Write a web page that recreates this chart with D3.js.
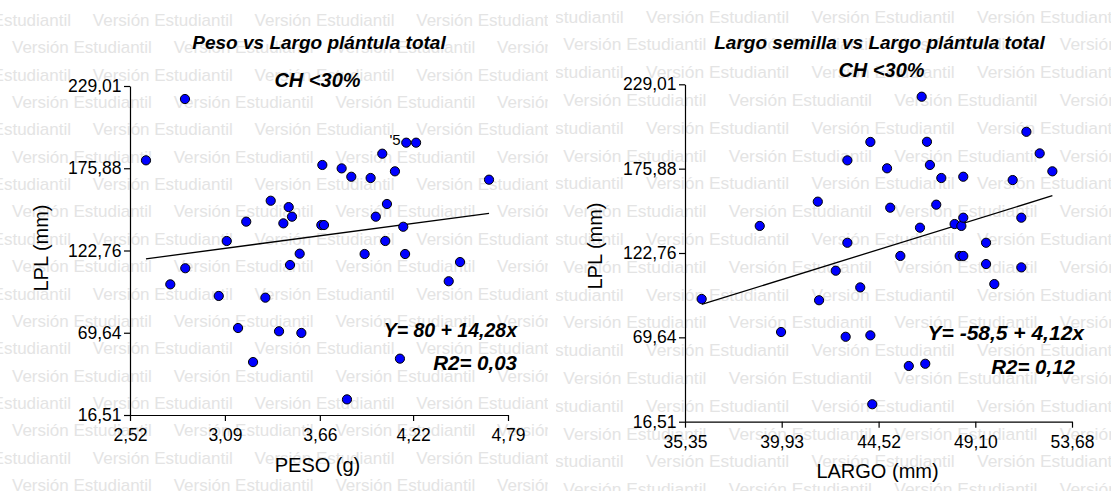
<!DOCTYPE html>
<html>
<head>
<meta charset="utf-8">
<script src="https://cdn.jsdelivr.net/npm/d3@7"></script>
<style>
  body { margin: 0; background: #fff; }
  svg { display: block; font-family: "Liberation Sans", Arial, sans-serif; }
</style>
</head>
<body>
<svg id="chart" width="1111" height="491"></svg>
<script>
// PESO (g) vs LPL (mm)
const pesoX = [2.850, 2.616, 3.365, 3.473, 3.493, 3.441, 3.218, 3.101, 3.539, 3.481,
  2.852, 2.762, 3.053, 3.333, 3.169, 3.415, 3.549, 3.259, 3.675, 3.669,
  3.685, 3.791, 3.849, 3.965, 4.035, 4.111, 4.179, 4.238, 4.676, 4.063,
  3.996, 4.161, 4.053, 3.929, 4.172, 4.502, 4.434, 4.141, 3.823];
const pesoLPL = [220.6, 181.0, 154.9, 150.8, 144.6, 140.3, 141.4, 128.9, 120.7, 113.4,
  111.3, 100.9, 93.4, 92.3, 72.7, 70.6, 69.5, 50.7, 178.0, 139.2,
  139.2, 175.8, 170.4, 169.6, 185.3, 173.9, 192.4, 192.4, 168.5, 152.8,
  144.6, 138.1, 128.9, 120.5, 120.5, 115.3, 102.9, 52.9, 26.6];

// LARGO (mm) vs LPL (mm)
const largoX = [36.14, 38.89, 39.90, 41.64, 41.70, 43.04, 43.04, 42.49, 43.65, 42.96,
  44.13, 44.13, 44.22, 46.56, 46.81, 44.92, 46.95, 47.49, 48.53, 51.52,
  52.15, 52.75, 50.87, 45.07, 47.25, 46.48, 48.12, 48.44, 48.53, 51.28,
  45.55, 48.36, 48.53, 49.61, 49.61, 51.28, 50.00, 45.95, 46.73];
const largoLPL = [93.8, 139.8, 73.0, 155.1, 93.0, 181.1, 129.2, 111.6, 101.1, 70.0,
  192.7, 70.9, 27.5, 221.2, 192.8, 176.1, 178.2, 170.0, 170.8, 199.1,
  185.5, 174.2, 168.7, 151.3, 153.2, 138.7, 141.0, 139.8, 145.0, 145.0,
  120.9, 120.9, 120.9, 129.2, 115.8, 113.7, 103.2, 51.6, 53.0];

const pesoTicks = [2.52, 3.09, 3.66, 4.22, 4.79];
const largoTicks = [35.35, 39.93, 44.52, 49.10, 53.68];
const lplTicks = [16.51, 69.64, 122.76, 175.88, 229.01];

const fitIntercept = [80, -58.5];
const fitSlope = [14.28, 4.12];
const fitLabels = ["Y= 80 + 14,28x", "Y= -58,5 + 4,12x"];
const r2Labels = ["R2= 0,03", "R2= 0,12"];
const titles = ["Peso vs Largo plántula total", "Largo semilla vs Largo plántula total"];
const subtitle = "CH <30%";
const xTitles = ["PESO (g)", "LARGO (mm)"];
const yTitle = "LPL (mm)";

const svg = d3.select("#chart");
const comma = v => d3.format(".2f")(v).replace(".", ",");

svg.append("rect").attr("width", 1111).attr("height", 491).attr("fill", "#fff");

// watermark "Versión Estudiantil"
function watermark(id, clipX0, clipX1, y0, rowGap, x0, period, size) {
  svg.append("clipPath").attr("id", id)
    .append("rect").attr("x", clipX0).attr("y", 0)
    .attr("width", clipX1 - clipX0).attr("height", 491);
  const g = svg.append("g").attr("clip-path", `url(#${id})`)
    .attr("fill", "#e4e4e4").attr("font-size", size);
  for (let k = 0; k < 18; k++) {
    let x = (k % 2 === 1 ? x0 : x0 - period / 2);
    while (x > clipX0 - period) x -= period;
    for (; x < clipX1; x += period) {
      g.append("text").attr("x", x).attr("y", y0 + k * rowGap).text("Versión Estudiantil");
    }
  }
}
watermark("wmL", 0, 548, 26, 27.35, 12, 161.7, 17);
watermark("wmR", 556, 1111, 22.5, 27.8, 563.3, 165.5, 17.4);

const panels = [
  { xs: pesoX, ys: pesoLPL, xTicks: pesoTicks, xr: [130, 508], yr: [415, 86],
    titleX: 319, titleY: 49, subX: 317.5, subY: 87,
    xtX: 317.5, xtY: 471.5, ytX: 48, ytY: 248,
    eqX: 517, eqY: 336.5, r2X: 517, r2Y: 370 },
  { xs: largoX, ys: largoLPL, xTicks: largoTicks, xr: [685, 1072], yr: [421.7, 84.3],
    titleX: 879.5, titleY: 48.5, subX: 881.5, subY: 77,
    xtX: 877.5, xtY: 478, ytX: 601.5, ytY: 246,
    eqX: 1084, eqY: 340, r2X: 1075, r2Y: 374 }
];

panels.forEach((p, i) => {
  const x = d3.scaleLinear().domain([p.xTicks[0], p.xTicks[p.xTicks.length - 1]]).range(p.xr);
  const y = d3.scaleLinear().domain([lplTicks[0], lplTicks[lplTicks.length - 1]]).range(p.yr);

  const ax = svg.append("g").attr("transform", `translate(0,${p.yr[0]})`)
    .call(d3.axisBottom(x).tickValues(p.xTicks).tickFormat(comma)
      .tickSize(6).tickSizeOuter(0).tickPadding(8));
  const ay = svg.append("g").attr("transform", `translate(${p.xr[0]},0)`)
    .call(d3.axisLeft(y).tickValues(lplTicks).tickFormat(comma)
      .tickSize(6).tickSizeOuter(0).tickPadding(2.5));
  [ax, ay].forEach(a => {
    a.selectAll("path, line").attr("stroke", "#000").attr("stroke-width", 1.2);
    a.selectAll("text").attr("fill", "#000").attr("font-size", 17.5)
      .attr("font-family", "Liberation Sans, Arial, sans-serif");
  });

  // regression line
  const ext = d3.extent(p.xs);
  svg.append("path")
    .datum(ext)
    .attr("fill", "none").attr("stroke", "#000").attr("stroke-width", 1.3)
    .attr("d", d3.line().x(d => x(d)).y(d => y(fitIntercept[i] + fitSlope[i] * d)));

  svg.append("g").selectAll("circle")
    .data(p.xs.map((v, j) => [v, p.ys[j]]))
    .join("circle")
    .attr("cx", d => x(d[0])).attr("cy", d => y(d[1]))
    .attr("r", 4.6)
    .attr("fill", "#0000ff").attr("stroke", "#000").attr("stroke-width", 1);

  const bi = (t, tx, ty, size, anchor) => svg.append("text")
    .attr("x", tx).attr("y", ty).attr("text-anchor", anchor)
    .attr("font-size", size).attr("font-weight", "bold").attr("font-style", "italic")
    .text(t);

  bi(titles[i], p.titleX, p.titleY, 19, "middle");
  bi(subtitle, p.subX, p.subY, 20, "middle");
  bi(fitLabels[i], p.eqX, p.eqY, i === 0 ? 19.5 : 21, "end");
  bi(r2Labels[i], p.r2X, p.r2Y, 20.5, "end");

  svg.append("text").attr("x", p.xtX).attr("y", p.xtY)
    .attr("text-anchor", "middle").attr("font-size", 20).text(xTitles[i]);
  svg.append("text")
    .attr("transform", `translate(${p.ytX},${p.ytY}) rotate(-90)`)
    .attr("text-anchor", "middle").attr("font-size", 20).text(yTitle);
});

// stray label fragment left in the first panel
svg.append("text").attr("x", 389.5).attr("y", 145).attr("font-size", 15).text("'5");
</script>
</body>
</html>
